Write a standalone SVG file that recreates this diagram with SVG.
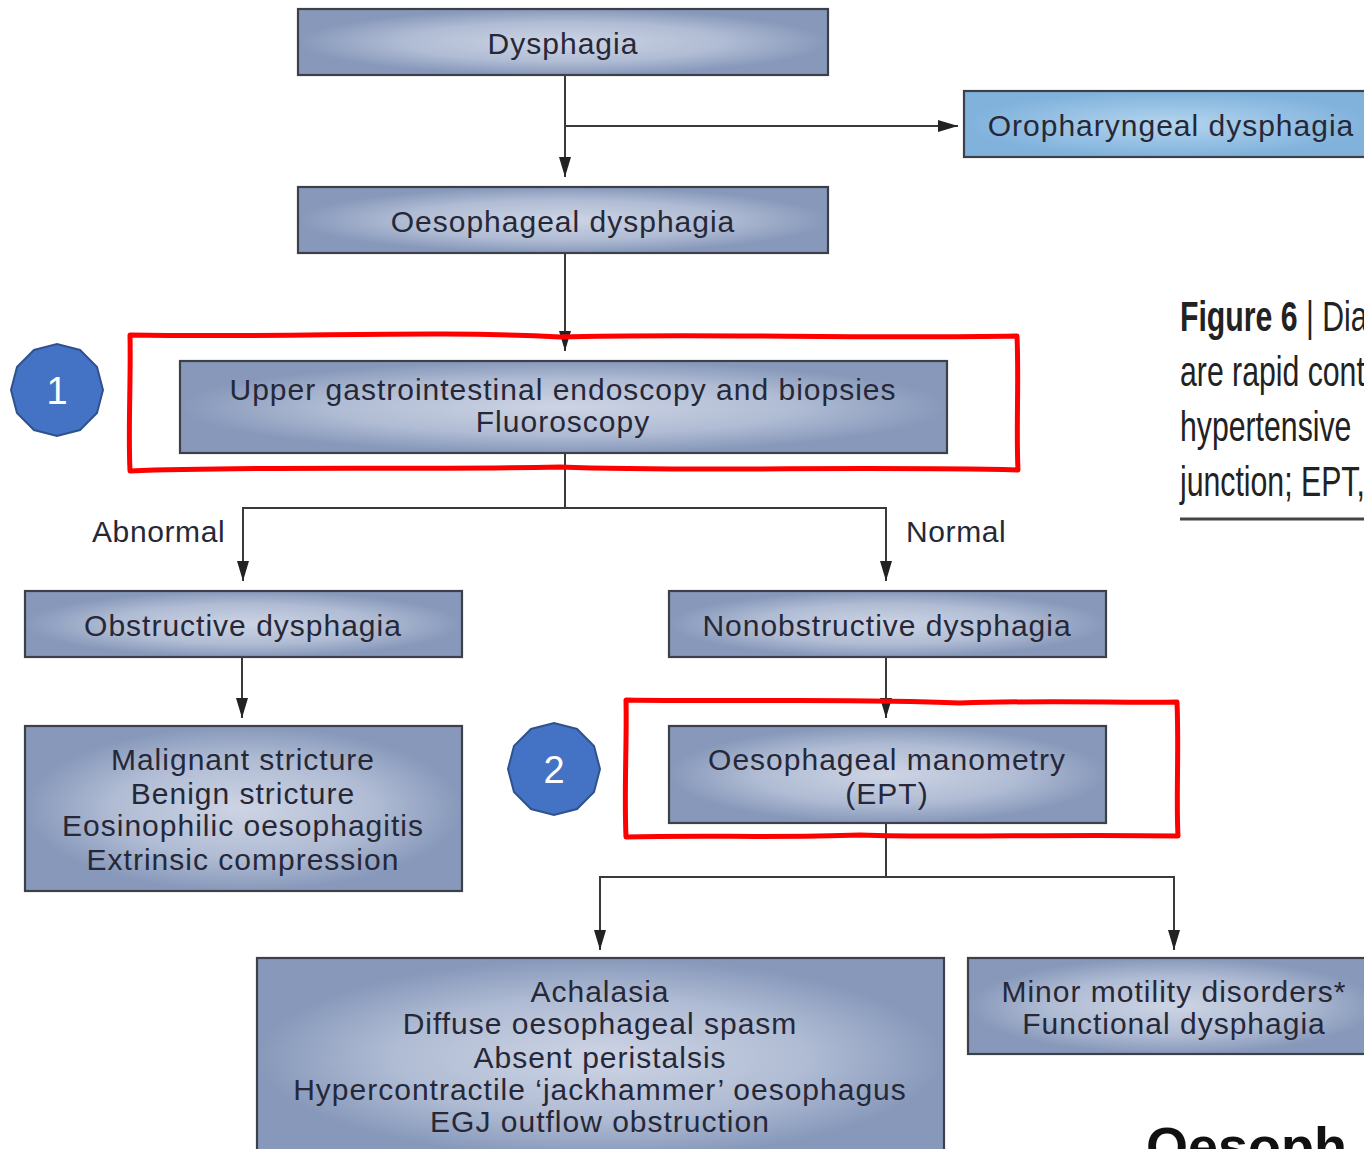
<svg xmlns="http://www.w3.org/2000/svg" width="1364" height="1149" viewBox="0 0 1364 1149">
<style>
.box{fill:url(#g);stroke:#3c4048;stroke-width:2.2}
.obox{fill:url(#go);stroke:#3c4048;stroke-width:2.2}
.t{font-family:"Liberation Sans",Arial,sans-serif;font-size:30px;fill:#262838;text-anchor:middle;letter-spacing:1px}
.lbl{font-family:"Liberation Sans",Arial,sans-serif;font-size:30px;fill:#262838;letter-spacing:0.6px}
.c{fill:none;stroke:#3a3a3a;stroke-width:2}
.red{fill:none;stroke:#ff0000;stroke-width:5;stroke-linejoin:round}
.badge{fill:#4472c4;stroke:#2f528f;stroke-width:2}
.bt{font-family:"Liberation Sans",Arial,sans-serif;font-size:38px;fill:#ffffff;text-anchor:middle}
.cap{font-family:"Liberation Sans",Arial,sans-serif;font-size:42px;fill:#222}
</style>
<defs>
<radialGradient id="g" cx="0.5" cy="0.5" r="0.5">
<stop offset="0" stop-color="#cdd4e4"/>
<stop offset="0.6" stop-color="#b0bcd4"/>
<stop offset="1" stop-color="#8798ba"/>
</radialGradient>
<radialGradient id="go" cx="0.5" cy="0.5" r="0.5">
<stop offset="0" stop-color="#b4d5ee"/>
<stop offset="1" stop-color="#80b2dc"/>
</radialGradient>
<marker id="arw" viewBox="0 0 20 12" refX="20" refY="6" markerWidth="20" markerHeight="12" markerUnits="userSpaceOnUse" orient="auto">
<path d="M0,0 L20,6 L0,12 z" fill="#222"/>
</marker>
</defs>

<g id="connectors">
<path class="c" d="M565,75 V177" marker-end="url(#arw)"/>
<path class="c" d="M565,126 H958" marker-end="url(#arw)"/>
<path class="c" d="M565,253 V351" marker-end="url(#arw)"/>
<path class="c" d="M565,453 V508 H886 V581" marker-end="url(#arw)"/>
<path class="c" d="M565,508 H243 V581" marker-end="url(#arw)"/>
<path class="c" d="M242,657 V718" marker-end="url(#arw)"/>
<path class="c" d="M886,657 V718" marker-end="url(#arw)"/>
<path class="c" d="M886,823 V877 H1174 V950" marker-end="url(#arw)"/>
<path class="c" d="M886,877 H600 V950" marker-end="url(#arw)"/>
<text class="lbl" x="92" y="542">Abnormal</text>
<text class="lbl" x="906" y="542">Normal</text>
</g>

<g id="n-dysphagia">
<rect class="box" x="298" y="9" width="530" height="66"/>
<text class="t" x="563" y="54">Dysphagia</text>
</g>
<g id="n-oropharyngeal">
<rect class="obox" x="964" y="91" width="410" height="66"/>
<text class="t" x="1171" y="136">Oropharyngeal dysphagia</text>
</g>
<g id="n-oesophageal">
<rect class="box" x="298" y="187" width="530" height="66"/>
<text class="t" x="563" y="232">Oesophageal dysphagia</text>
</g>
<g id="n-endoscopy">
<rect class="box" x="180" y="361" width="767" height="92"/>
<text class="t" x="563" y="400">Upper gastrointestinal endoscopy and biopsies</text>
<text class="t" x="563" y="432">Fluoroscopy</text>
</g>
<g id="n-obstructive">
<rect class="box" x="25" y="591" width="437" height="66"/>
<text class="t" x="243" y="636">Obstructive dysphagia</text>
</g>
<g id="n-nonobstructive">
<rect class="box" x="669" y="591" width="437" height="66"/>
<text class="t" x="887" y="636">Nonobstructive dysphagia</text>
</g>
<g id="n-strictures">
<rect class="box" x="25" y="726" width="437" height="165"/>
<text class="t" x="243" y="770">Malignant stricture</text>
<text class="t" x="243" y="804">Benign stricture</text>
<text class="t" x="243" y="836">Eosinophilic oesophagitis</text>
<text class="t" x="243" y="870">Extrinsic compression</text>
</g>
<g id="n-manometry">
<rect class="box" x="669" y="726" width="437" height="97"/>
<text class="t" x="887" y="770">Oesophageal manometry</text>
<text class="t" x="887" y="804">(EPT)</text>
</g>
<g id="n-achalasia">
<rect class="box" x="257" y="958" width="687" height="200"/>
<text class="t" x="600" y="1002">Achalasia</text>
<text class="t" x="600" y="1034">Diffuse oesophageal spasm</text>
<text class="t" x="600" y="1068">Absent peristalsis</text>
<text class="t" x="600" y="1100">Hypercontractile ‘jackhammer’ oesophagus</text>
<text class="t" x="600" y="1132">EGJ outflow obstruction</text>
</g>
<g id="n-minor">
<rect class="box" x="968" y="958" width="410" height="96"/>
<text class="t" x="1174" y="1002">Minor motility disorders*</text>
<text class="t" x="1174" y="1034">Functional dysphagia</text>
</g>

<g id="caption">
<g transform="translate(1180,0) scale(0.72,1)">
<text class="cap" x="0" y="331"><tspan font-weight="bold">Figure 6</tspan> | Dia</text>
<text class="cap" x="0" y="386">are rapid cont</text>
<text class="cap" x="0" y="441">hypertensive</text>
<text class="cap" x="0" y="496">junction; EPT,</text>
</g>
<line x1="1180" y1="519" x2="1364" y2="519" stroke="#444" stroke-width="3"/>
<text x="1146" y="1165" font-family="Liberation Sans,Arial,sans-serif" font-weight="bold" font-size="54" fill="#111">Oesoph</text>
</g>

<g id="annotations">
<path class="red" d="M130,335 C300,338 420,330 560,337 C700,333 850,339 1017,336 C1019,380 1016,430 1018,470 C850,466 700,472 560,467 C400,470 250,466 130,471 C128,430 131,380 130,335 z"/>
<path class="red" d="M626,700 C750,702 850,698 960,703 C1050,700 1120,703 1177,702 C1179,750 1176,800 1178,836 C1050,834 950,838 860,835 C780,838 700,835 626,837 C624,790 627,740 626,700 z"/>
<g id="badge1">
<polygon class="badge" points="103,390 97,413 80,430 57,436 34,430 17,413 11,390 17,367 34,350 57,344 80,350 97,367"/>
<text class="bt" x="57" y="404">1</text>
</g>
<g id="badge2">
<polygon class="badge" points="600,769 594,792 577,809 554,815 531,809 514,792 508,769 514,746 531,729 554,723 577,729 594,746"/>
<text class="bt" x="554" y="783">2</text>
</g>
</g>
</svg>
